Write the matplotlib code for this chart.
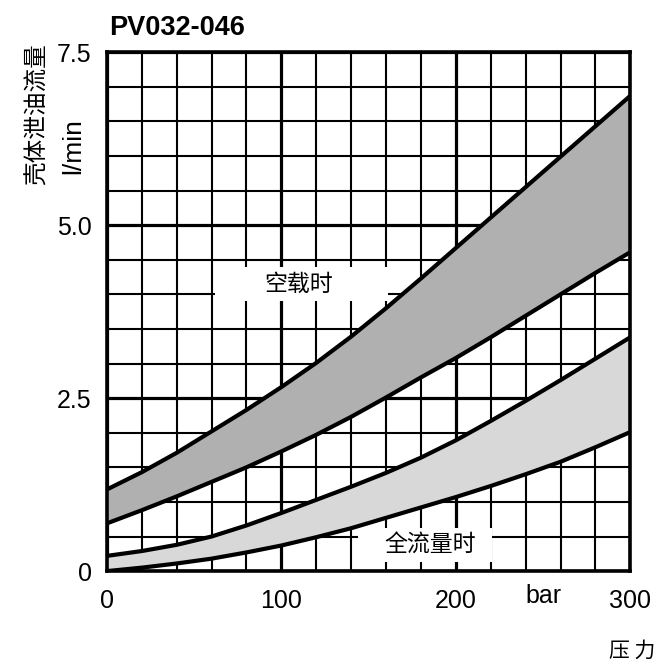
import matplotlib
matplotlib.use("Agg")
import matplotlib.pyplot as plt
from matplotlib.patches import Rectangle

plt.rcParams['font.family'] = ['Liberation Sans', 'Noto Sans CJK SC', 'DejaVu Sans']

# pressure (bar)
pressure = [0, 20, 40, 60, 80, 100, 120, 140, 160, 180, 200, 220, 240, 260, 280, 300]

# no-load band (空载时), upper and lower limits, l/min
noload_hi = [1.18, 1.43, 1.71, 2.02, 2.33, 2.66, 3.01, 3.39, 3.80, 4.23, 4.67, 5.11, 5.55, 5.99, 6.43, 6.87]
noload_lo = [0.69, 0.88, 1.08, 1.29, 1.50, 1.73, 1.97, 2.23, 2.51, 2.80, 3.08, 3.38, 3.69, 4.00, 4.31, 4.61]

# full-flow band (全流量时)
full_hi = [0.22, 0.29, 0.38, 0.50, 0.66, 0.84, 1.03, 1.22, 1.42, 1.64, 1.89, 2.17, 2.46, 2.76, 3.07, 3.38]
full_lo = [0.00, 0.05, 0.11, 0.18, 0.27, 0.37, 0.49, 0.62, 0.77, 0.92, 1.07, 1.23, 1.40, 1.58, 1.79, 2.01]

x_ticks = [0, 100, 200, 300]
x_ticklabels = ['0', '100', '200', '300']
y_ticks = [0, 2.5, 5.0, 7.5]
y_ticklabels = ['0', '2.5', '5.0', '7.5']

# (x0, y0, x1, y1) white boxes behind the band labels
box_noload = (62, 3.90, 161, 4.40)
box_full = (144, 0.13, 221, 0.62)

fig = plt.figure(figsize=(6.6, 6.61), dpi=100)
ax = fig.add_axes([0.162, 0.136, 0.793, 0.785])

ax.fill_between(pressure, noload_lo, noload_hi, color='#b0b0b0', zorder=3, lw=0)
ax.fill_between(pressure, full_lo, full_hi, color='#d8d8d8', zorder=3, lw=0)
for ys in [noload_hi, noload_lo, full_hi, full_lo]:
    ax.plot(pressure, ys, color='black', lw=3.0, zorder=4,
            solid_capstyle='butt', solid_joinstyle='round')

for (x0, y0, x1, y1) in [box_noload, box_full]:
    ax.add_patch(Rectangle((x0, y0), x1 - x0, y1 - y0, facecolor='white',
                           edgecolor='none', zorder=2))

ax.text(110, 4.15, '空载时', fontsize=16.5, family=['Noto Sans CJK SC'],
        ha='center', va='center', zorder=5)
ax.text(185, 0.37, '全流量时', fontsize=16.5, family=['Noto Sans CJK SC'],
        ha='center', va='center', zorder=5)

ax.set_xlim(0, 300)
ax.set_ylim(0, 7.5)
ax.set_xticks(x_ticks)
ax.set_xticklabels(x_ticklabels)
ax.set_yticks(y_ticks)
ax.set_yticklabels(y_ticklabels)
ax.set_xticks(range(0, 301, 20), minor=True)
ax.set_yticks([v * 0.5 for v in range(16)], minor=True)
ax.tick_params(which='both', length=0)
ax.tick_params(axis='x', pad=13, labelsize=18)
ax.tick_params(axis='y', pad=11, labelsize=18)

ax.grid(which='minor', color='black', lw=1.5, zorder=1)
ax.grid(which='major', color='black', lw=2.3, zorder=1)
ax.set_axisbelow(True)
for s in ax.spines.values():
    s.set_linewidth(2.6)
    s.set_zorder(6)

ax.text(250, -0.46, 'bar', fontsize=18, ha='center', va='baseline', clip_on=False)

fig.text(0.165, 0.958, 'PV032-046', fontsize=19.5, fontweight='bold', ha='left', va='center')
fig.text(0.057, 0.828, '壳体泄油流量', fontsize=17, family=['Noto Sans CJK SC'],
         rotation=90, ha='center', va='center')
fig.text(0.111, 0.779, 'l/min', fontsize=19, rotation=90, ha='center', va='center')
fig.text(0.958, 0.015, '压 力', fontsize=15, family=['Noto Sans CJK SC'],
         ha='center', va='center')

fig.savefig('out.png', dpi=100)
